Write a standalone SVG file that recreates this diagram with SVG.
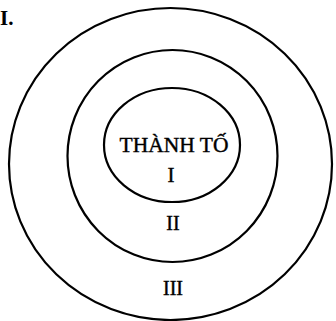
<svg xmlns="http://www.w3.org/2000/svg" width="336" height="321" viewBox="0 0 336 321">
<style>
.ring{fill:none;stroke:#000;stroke-width:2.2}
.t{font-family:"Liberation Serif","Times New Roman",serif;fill:#000;stroke:#000;stroke-width:0.4;text-anchor:middle}
</style>
<rect width="336" height="321" fill="#fff"/>
<text x="0" y="25" style="font-family:'Liberation Serif',serif;font-size:21px;font-weight:bold;fill:#000">I.</text>
<g id="ring3"><ellipse class="ring" cx="170.5" cy="164" rx="161.5" ry="156"/><text class="t" x="173" y="295" font-size="20">III</text></g>
<g id="ring2"><ellipse class="ring" cx="172.5" cy="156" rx="105" ry="106"/><text class="t" x="173" y="230" font-size="20">II</text></g>
<g id="ring1"><ellipse class="ring" cx="172" cy="145" rx="68" ry="57"/><text class="t" x="174" y="152" font-size="21.5">THÀNH TỐ</text><text class="t" x="171" y="182" font-size="21">I</text></g>
</svg>
